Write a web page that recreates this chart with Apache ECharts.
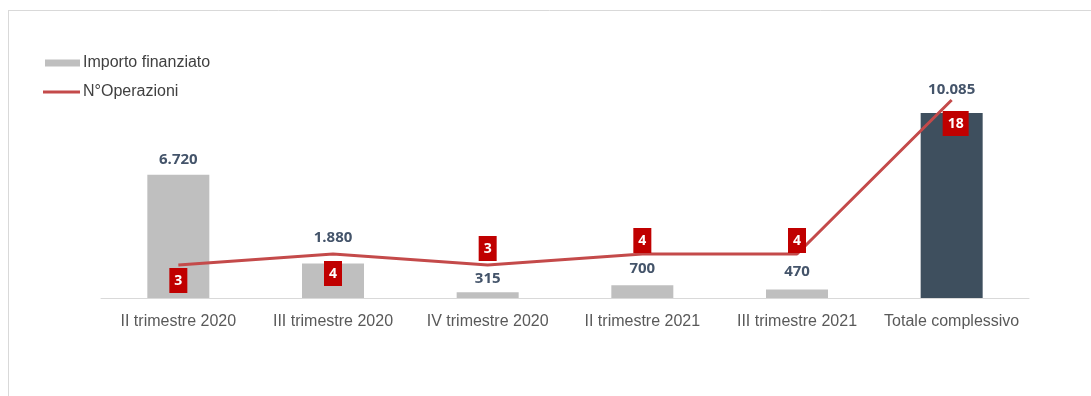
<!DOCTYPE html>
<html>
<head>
<meta charset="utf-8">
<script src="https://cdn.jsdelivr.net/npm/echarts@6/dist/echarts.min.js"></script>
<style>
html,body{margin:0;padding:0;background:#fff;}
#c{width:1091px;height:396px;}
</style>
</head>
<body>
<div id="c"></div>
<script>
// ---- data ----
var categories = ['II trimestre 2020', 'III trimestre 2020', 'IV trimestre 2020', 'II trimestre 2021', 'III trimestre 2021', 'Totale complessivo'];
var importo = [6720, 1880, 315, 700, 470, 10085];
var operazioni = [3, 4, 3, 4, 4, 18];
var seriesNames = ['Importo finanziato', 'N°Operazioni'];

// ---- styling (not data) ----
var barColors = ['#BFBFBF', '#BFBFBF', '#BFBFBF', '#BFBFBF', '#BFBFBF', '#3E4F5E'];
var barLabelDist = [8, 18, 6, 9, 10, 16];
var lineLabelPos = ['bottom', 'bottom', 'top', 'top', 'top', 'bottom'];
var lineLabelDist = [3, 7, 4, 1, 1, 11];
var lineLabelOffX = [0, 0, 0, 0, 0, 4];

function fmtIt(v) {
  return String(v).replace(/\B(?=(\d{3})+(?!\d))/g, '.');
}

var barData = importo.map(function (v, i) {
  return {
    value: v,
    itemStyle: { color: barColors[i] },
    label: { distance: barLabelDist[i] }
  };
});
var lineData = operazioni.map(function (v, i) {
  return {
    value: v,
    label: { position: lineLabelPos[i], distance: lineLabelDist[i], offset: [lineLabelOffX[i], 0] }
  };
});

var legendText = { fontFamily: 'Liberation Sans, Arial, sans-serif', fontSize: 16, color: '#404040', padding: [0, 0, 0, -2] };

var chart = echarts.init(document.getElementById('c'), null, { renderer: 'canvas' });
chart.setOption({
  animation: false,
  backgroundColor: '#fff',
  graphic: [
    { type: 'line', shape: { x1: 8, y1: 10.5, x2: 1091, y2: 10.5 }, style: { stroke: '#D9D9D9', lineWidth: 1 } },
    { type: 'line', shape: { x1: 8.5, y1: 10, x2: 8.5, y2: 396 }, style: { stroke: '#D9D9D9', lineWidth: 1 } }
  ],
  legend: [
    {
      data: [{ name: seriesNames[0], icon: 'rect' }],
      left: 45, top: 55, orient: 'vertical', padding: 0,
      itemWidth: 35, itemHeight: 7, itemGap: 0,
      textStyle: legendText
    },
    {
      data: [{ name: seriesNames[1], icon: 'rect' }],
      left: 43, top: 84, orient: 'vertical', padding: 0,
      itemWidth: 37, itemHeight: 3, itemGap: 0,
      textStyle: legendText
    }
  ],
  grid: { left: 101, right: 62, top: 78, bottom: 98, containLabel: false },
  xAxis: {
    type: 'category',
    data: categories,
    axisLine: { lineStyle: { color: '#D9D9D9', width: 1 } },
    axisTick: { show: false },
    axisLabel: { interval: 0, color: '#595959', fontFamily: 'Liberation Sans, Arial, sans-serif', fontSize: 16, margin: 16 }
  },
  yAxis: [
    { type: 'value', min: 0, max: 12000, show: false, splitLine: { show: false } },
    { type: 'value', min: 0, max: 20, show: false, splitLine: { show: false } }
  ],
  series: [
    {
      name: seriesNames[0],
      type: 'bar',
      yAxisIndex: 0,
      barWidth: 62,
      data: barData,
      itemStyle: { color: '#BFBFBF' },
      label: {
        show: true, position: 'top',
        color: '#44546A', fontWeight: 'bold', fontSize: 15,
        fontFamily: 'Open Sans, Liberation Sans, sans-serif',
        formatter: function (p) { return fmtIt(p.value); }
      },
      z: 2
    },
    {
      name: seriesNames[1],
      type: 'line',
      yAxisIndex: 1,
      data: lineData,
      symbol: 'circle',
      symbolSize: 0,
      showSymbol: true,
      itemStyle: { color: '#C44A4A' },
      lineStyle: { color: '#C44A4A', width: 3 },
      label: {
        show: true,
        color: '#fff', fontWeight: 'bold', fontSize: 14,
        fontFamily: 'Open Sans, Liberation Sans, sans-serif',
        backgroundColor: '#C00000',
        padding: [5, 5, 4, 5],
        lineHeight: 16
      },
      z: 5
    }
  ]
});
</script>
</body>
</html>
